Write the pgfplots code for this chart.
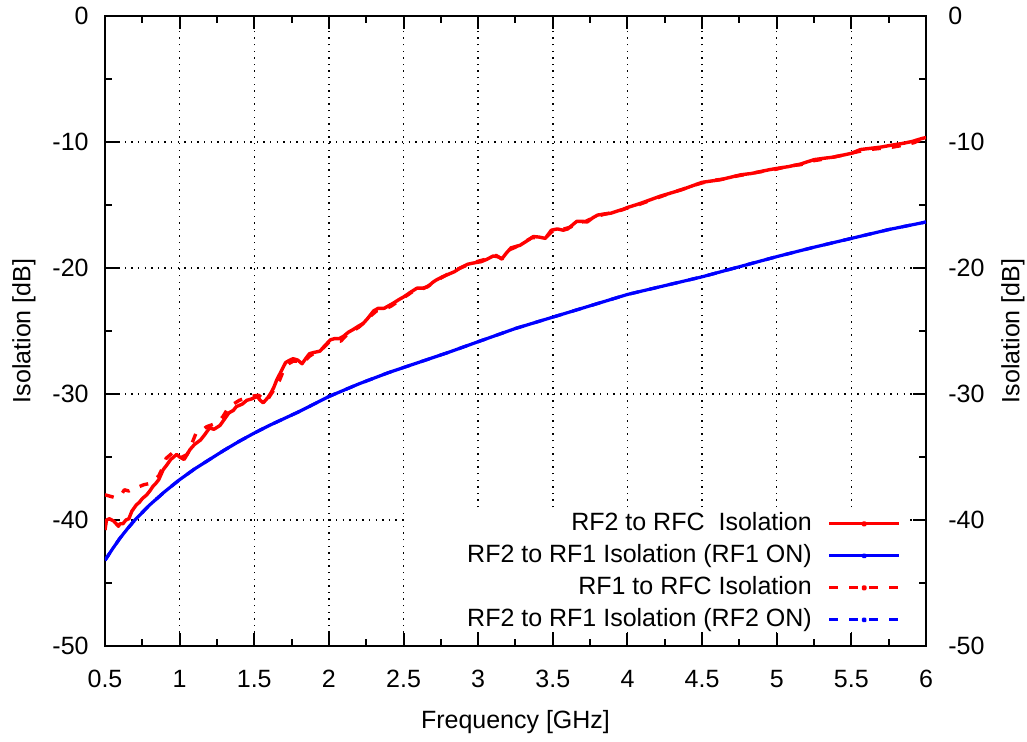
\documentclass[border=0pt]{standalone}
\usepackage{fontspec}
\setmainfont{Liberation Sans}
\usepackage{pgfplots}
\usepackage{pgfplotstable}
\pgfplotsset{compat=1.18}

\newcommand{\fs}{\fontsize{12.5}{15}\selectfont}

% RF2 to RFC isolation (solid red)
\pgfplotstableread{
f     iso
0.500 -40.8
0.510 -40.0
0.530 -39.9
0.560 -40.1
0.590 -40.5
0.600 -40.3
0.620 -40.3
0.640 -40.0
0.660 -39.9
0.680 -39.3
0.710 -38.8
0.730 -38.6
0.750 -38.3
0.780 -38.0
0.800 -37.7
0.820 -37.35
0.840 -37.1
0.860 -36.8
0.890 -36.0
0.910 -35.7
0.940 -35.2
0.960 -35.0
0.980 -34.8
1.000 -35.0
1.030 -35.2
1.070 -34.4
1.100 -34.0
1.140 -33.65
1.170 -33.2
1.200 -32.7
1.230 -32.8
1.270 -32.5
1.300 -32.0
1.330 -31.5
1.360 -31.3
1.380 -31.0
1.420 -30.8
1.450 -30.5
1.480 -30.4
1.520 -30.2
1.540 -30.5
1.560 -30.7
1.590 -30.3
1.610 -29.95
1.630 -29.5
1.650 -28.9
1.680 -28.2
1.710 -27.5
1.740 -27.3
1.760 -27.2
1.790 -27.3
1.820 -27.6
1.850 -27.1
1.870 -26.8
1.900 -26.7
1.940 -26.6
1.970 -26.2
2.010 -25.7
2.040 -25.6
2.070 -25.6
2.100 -25.4
2.130 -25.1
2.160 -24.9
2.200 -24.6
2.230 -24.4
2.260 -24.0
2.300 -23.4
2.330 -23.2
2.370 -23.2
2.400 -23.0
2.430 -22.8
2.470 -22.5
2.500 -22.3
2.550 -21.9
2.590 -21.6
2.630 -21.6
2.660 -21.5
2.700 -21.1
2.720 -20.95
2.760 -20.7
2.800 -20.5
2.840 -20.3
2.880 -20.0
2.930 -19.7
2.970 -19.6
3.020 -19.5
3.060 -19.3
3.100 -19.05
3.130 -19.1
3.160 -19.25
3.190 -18.8
3.220 -18.4
3.250 -18.3
3.280 -18.2
3.320 -17.9
3.370 -17.5
3.410 -17.55
3.450 -17.65
3.490 -17.0
3.530 -16.9
3.570 -17.0
3.600 -16.9
3.630 -16.6
3.660 -16.3
3.700 -16.3
3.730 -16.35
3.770 -16.0
3.800 -15.8
3.850 -15.7
3.890 -15.65
3.940 -15.45
3.970 -15.35
4.000 -15.2
4.040 -15.05
4.080 -14.9
4.150 -14.6
4.220 -14.3
4.290 -14.05
4.360 -13.8
4.430 -13.5
4.500 -13.2
4.560 -13.1
4.620 -13.0
4.690 -12.8
4.760 -12.6
4.830 -12.5
4.890 -12.35
4.950 -12.2
5.000 -12.1
5.080 -11.95
5.160 -11.75
5.250 -11.4
5.310 -11.3
5.380 -11.2
5.440 -11.05
5.500 -10.9
5.560 -10.6
5.630 -10.5
5.700 -10.4
5.770 -10.25
5.850 -10.1
5.910 -9.95
5.950 -9.8
5.980 -9.7
6.000 -9.65
}\rftworfc

% RF1 to RFC isolation (dashed red)
\pgfplotstableread{
f     iso
0.500 -38.0
0.530 -38.1
0.560 -38.2
0.600 -38.15
0.630 -37.6
0.660 -37.7
0.690 -37.5
0.720 -37.4
0.760 -37.2
0.800 -37.1
0.830 -36.8
0.860 -36.5
0.880 -36.0
0.910 -35.1
0.950 -34.7
0.980 -35.0
1.000 -35.1
1.050 -34.8
1.080 -34.0
1.110 -33.1
1.150 -32.9
1.180 -32.6
1.250 -32.3
1.290 -31.8
1.330 -31.0
1.360 -30.8
1.400 -30.5
1.470 -30.2
1.530 -30.1
1.580 -30.6
1.630 -29.7
1.670 -28.9
1.700 -28.0
1.730 -27.6
1.760 -27.4
1.800 -27.4
1.830 -27.5
1.870 -27.0
1.910 -26.7
1.950 -26.5
2.000 -25.9
2.040 -25.8
2.080 -25.8
2.120 -25.3
2.160 -25.0
2.200 -24.7
2.240 -24.3
2.280 -23.8
2.320 -23.4
2.370 -23.3
2.420 -23.0
2.470 -22.6
2.520 -22.2
2.570 -21.8
2.620 -21.7
2.670 -21.4
2.720 -21.0
2.780 -20.6
2.840 -20.2
2.900 -19.9
2.960 -19.6
3.020 -19.4
3.080 -19.2
3.120 -19.0
3.160 -19.3
3.200 -18.6
3.250 -18.35
3.300 -18.0
3.360 -17.6
3.420 -17.6
3.460 -17.5
3.500 -17.05
3.560 -16.95
3.620 -16.75
3.660 -16.4
3.720 -16.3
3.780 -15.95
3.840 -15.75
3.900 -15.6
3.960 -15.4
4.020 -15.15
4.080 -14.95
4.150 -14.65
4.220 -14.35
4.300 -14.0
4.370 -13.75
4.440 -13.45
4.500 -13.25
4.570 -13.05
4.640 -12.95
4.710 -12.75
4.780 -12.6
4.850 -12.45
4.920 -12.3
5.000 -12.15
5.080 -11.9
5.160 -11.8
5.240 -11.5
5.320 -11.35
5.400 -11.15
5.480 -10.95
5.550 -10.75
5.620 -10.6
5.700 -10.5
5.780 -10.4
5.850 -10.25
5.920 -10.05
5.970 -9.8
6.000 -9.75
}\rfonerfc

% RF2 to RF1 isolation (blue, both RF1 ON and RF2 ON overlap)
\pgfplotstableread{
f     iso
0.50 -43.2
0.55 -42.3
0.60 -41.45
0.65 -40.7
0.70 -40.0
0.75 -39.4
0.80 -38.8
0.90 -37.75
1.00 -36.8
1.10 -35.95
1.20 -35.2
1.30 -34.45
1.40 -33.75
1.50 -33.1
1.60 -32.5
1.70 -31.95
1.80 -31.4
2.00 -30.2
2.20 -29.2
2.40 -28.3
2.60 -27.5
2.80 -26.7
3.00 -25.85
3.25 -24.8
3.50 -23.9
3.75 -23.0
4.00 -22.1
4.25 -21.4
4.50 -20.7
4.75 -19.9
5.00 -19.1
5.25 -18.35
5.50 -17.65
5.75 -16.95
6.00 -16.35
}\rftworfone

\pgfplotsset{
  isoaxis/.style={
    scale only axis,
    width=410.5pt, height=315pt,
    xmin=0.5, xmax=6, ymin=-50, ymax=0,
    ytick={-50,-40,-30,-20,-10,0},
    yticklabels={-50,-40,-30,-20,-10,0},
    tick label style={font=\fs},
    label style={font=\fs},
  },
}

\begin{document}
\begin{tikzpicture}
\useasboundingbox (-52.5pt,-48pt) rectangle (461pt,323pt);

\begin{axis}[
  isoaxis,
  xtick={0.5,1,1.5,2,2.5,3,3.5,4,4.5,5,5.5,6},
  xticklabels={0.5,1,1.5,2,2.5,3,3.5,4,4.5,5,5.5,6},
  minor x tick num=1,
  minor y tick num=1,
  tick align=inside,
  major tick length=6.5pt,
  minor tick length=3.5pt,
  tick style={line width=1pt, black},
  axis line style={line width=1pt},
  grid=major,
  major grid style={line width=0.7pt, dash pattern=on 0.7pt off 2.6pt, black},
  yticklabel pos=left,
  xticklabel style={inner sep=0pt, anchor=north, yshift=-12pt},
  yticklabel style={inner sep=0pt, anchor=east, xshift=-8pt},
  xlabel={Frequency [GHz]},
  xlabel style={at={(axis description cs:0.5,0)}, anchor=center, yshift=-38pt},
  ylabel={Isolation [dB]},
  ylabel style={at={(axis description cs:0,0.5)}, anchor=center, yshift=40.5pt},
  legend style={at={(0.9695,0.2143)}, anchor=north east, draw=none, fill=none,
    inner sep=0pt, row sep=3.5pt, column sep=8pt, font=\fs,
    nodes={inner sep=0pt, text height=9.5pt, text depth=3pt}},
  legend cell align=right,
  legend plot pos=right,
  legend image code/.code={\draw[#1, line width=1.4pt] (0pt,0pt) -- (35pt,0pt);
    \fill[#1, solid] (17.5pt,0pt) circle (0.6pt);},
]
% opaque legend background
\fill[white] (axis cs:2.52,-48.9) rectangle (axis cs:5.87,-39.2);

\addplot[red, line width=1.7pt, line join=round] table[x=f, y=iso] {\rftworfc};
\addlegendentry{RF2 to RFC\hspace{7pt}Isolation}
\addplot[blue, line width=1.6pt, line join=round] table[x=f, y=iso] {\rftworfone};
\addlegendentry{RF2 to RF1 Isolation (RF1 ON)}
\addplot[red, line width=1.7pt, line join=round, dash pattern=on 4.5pt off 5.5pt] table[x=f, y=iso] {\rfonerfc};
\addlegendentry{RF1 to RFC Isolation\hspace{3.5pt}}
\addplot[blue, line width=1.6pt, line join=round, dash pattern=on 4.5pt off 5.5pt] table[x=f, y=iso] {\rftworfone};
\addlegendentry{RF2 to RF1 Isolation (RF2 ON)}
\end{axis}

\begin{axis}[
  isoaxis,
  xtick=\empty,
  yticklabel pos=right,
  major tick length=0pt,
  tick style={draw=none},
  axis line style={draw=none},
  yticklabel style={inner sep=0pt, anchor=west, xshift=11pt},
  ylabel={Isolation [dB]},
  ylabel style={at={(axis description cs:1,0.5)}, anchor=center, yshift=-43.5pt},
]
\end{axis}
\end{tikzpicture}
\end{document}
